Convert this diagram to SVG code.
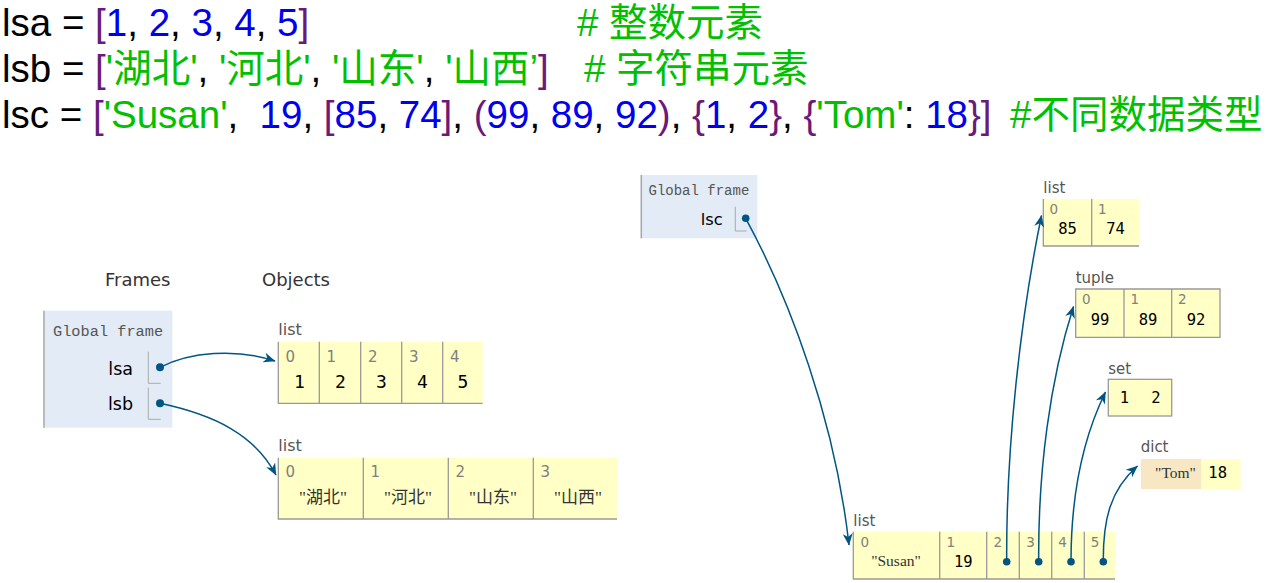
<svg xmlns="http://www.w3.org/2000/svg" width="1266" height="583" viewBox="0 0 1266 583">
<style>
.code{font-family:"Liberation Sans","Noto Sans CJK SC",sans-serif;font-size:38.5px;white-space:pre;fill:#000}
.g{fill:#00c000}.b{fill:#0000ee}.p{fill:#6a1a7a}
.hdr{font-family:"DejaVu Sans",sans-serif;font-size:18px;fill:#333}
.fr{fill:#e2ebf6}
.frb{stroke:#a8a8a8;stroke-width:1.5}
.frt{font-family:"Liberation Mono",monospace;fill:#555}
.var{font-family:"DejaVu Sans",sans-serif;fill:#000;text-anchor:end}
.ptr{fill:none;stroke:#aaa;stroke-width:1}
.dot{fill:#005583}
.cell{fill:#ffffc6}
.key{fill:#f7e7c3}
.bd{fill:none;stroke:#999;stroke-width:1.3}
.tl{font-family:"DejaVu Sans",sans-serif;fill:#555}
.ix{font-family:"DejaVu Sans",sans-serif;fill:#808080}
.v{font-family:"DejaVu Sans Mono",monospace;fill:#000;text-anchor:middle}
.s{font-family:"Liberation Serif","Noto Sans CJK SC",serif;fill:#333;text-anchor:middle}
.arr{fill:none;stroke:#005583;stroke-width:1.5;marker-end:url(#ah)}
</style>
<defs>
<marker id="ah" markerUnits="userSpaceOnUse" markerWidth="13" markerHeight="11" refX="11.5" refY="5" orient="auto" overflow="visible"><path d="M0,0 L12,5 L0,10 L3.5,5 Z" fill="#005583"/></marker>
</defs>
<rect width="1266" height="583" fill="#fff"/>

<g id="code">
<text class="code" x="2" y="36">lsa = <tspan class="p">[</tspan><tspan class="b">1</tspan>, <tspan class="b">2</tspan>, <tspan class="b">3</tspan>, <tspan class="b">4</tspan>, <tspan class="b">5</tspan><tspan class="p">]</tspan><tspan class="g" x="577"># 整数元素</tspan></text>
<text class="code" x="2" y="82">lsb = <tspan class="p">[</tspan><tspan class="g">'湖北'</tspan>, <tspan class="g">'河北'</tspan>, <tspan class="g">'山东'</tspan>, <tspan class="g">'山西’</tspan><tspan class="p">]</tspan><tspan class="g" x="584"># 字符串元素</tspan></text>
<text class="code" x="2" y="128">lsc = <tspan class="p">[</tspan><tspan class="g">'Susan'</tspan>,  <tspan class="b">19</tspan>, <tspan class="p">[</tspan><tspan class="b">85</tspan>, <tspan class="b">74</tspan><tspan class="p">]</tspan>, <tspan class="p">(</tspan><tspan class="b">99</tspan>, <tspan class="b">89</tspan>, <tspan class="b">92</tspan><tspan class="p">)</tspan>, <tspan class="p">{</tspan><tspan class="b">1</tspan>, <tspan class="b">2</tspan><tspan class="p">}</tspan>, <tspan class="p">{</tspan><tspan class="g">'Tom'</tspan>: <tspan class="b">18</tspan><tspan class="p">}]</tspan><tspan class="g" x="1010">#不同数据类型</tspan></text>
</g>

<g id="headers">
<text class="hdr" x="105" y="286">Frames</text>
<text class="hdr" x="262" y="286">Objects</text>
</g>

<g id="frame-left">
<rect class="fr" x="43.3" y="310.7" width="129" height="117"/>
<line class="frb" x1="44" y1="310.7" x2="44" y2="427.7"/>
<text class="frt" x="53" y="336" font-size="15.3">Global frame</text>
<text class="var" x="133" y="375" font-size="17.5">lsa</text>
<path class="ptr" d="M148.3,351.7 V383.3 H160.7"/>
<circle class="dot" cx="160" cy="367.3" r="4"/>
<text class="var" x="133" y="410" font-size="17.5">lsb</text>
<path class="ptr" d="M148.3,387.7 V419.3 H160.7"/>
<circle class="dot" cx="160" cy="403.3" r="4"/>
</g>

<g id="list-lsa">
<text class="tl" x="278.3" y="335" font-size="16">list</text>
<rect class="cell" x="278.3" y="341.7" width="204.4" height="61.6"/>
<path class="bd" d="M278.3,341.7 V403.3 H482.7 M319.3,341.7 V403.3 M360.7,341.7 V403.3 M401.7,341.7 V403.3 M442.7,341.7 V403.3"/>
<g class="ix" font-size="15">
<text x="285.5" y="361.7">0</text><text x="326.5" y="361.7">1</text><text x="368" y="361.7">2</text><text x="409" y="361.7">3</text><text x="450" y="361.7">4</text>
</g>
<g class="v" font-size="18">
<text x="299.3" y="387.7">1</text><text x="340.5" y="387.7">2</text><text x="381.5" y="387.7">3</text><text x="422.5" y="387.7">4</text><text x="463" y="387.7">5</text>
</g>
</g>

<g id="list-lsb">
<text class="tl" x="278.3" y="450.7" font-size="16">list</text>
<rect class="cell" x="278.3" y="457.7" width="338.7" height="61.3"/>
<path class="bd" d="M278.3,457.7 V519 H617 M363.3,457.7 V519 M448.3,457.7 V519 M533.3,457.7 V519"/>
<g class="ix" font-size="15">
<text x="285.5" y="477.3">0</text><text x="370.5" y="477.3">1</text><text x="455.5" y="477.3">2</text><text x="540.5" y="477.3">3</text>
</g>
<g class="s" font-size="17">
<text x="323" y="502.7">"湖北"</text><text x="408" y="502.7">"河北"</text><text x="493" y="502.7">"山东"</text><text x="578" y="502.7">"山西"</text>
</g>
</g>

<g id="frame-right">
<rect class="fr" x="640.7" y="175" width="116.6" height="63.3"/>
<line class="frb" x1="641.3" y1="175" x2="641.3" y2="238.3"/>
<text class="frt" x="648.5" y="195" font-size="14">Global frame</text>
<text class="var" x="722.7" y="225" font-size="16.3">lsc</text>
<path class="ptr" d="M735.3,206.7 V231 H746.7"/>
<circle class="dot" cx="745.7" cy="218.3" r="3.8"/>
</g>

<g id="list-lsc">
<text class="tl" x="853.3" y="526" font-size="15">list</text>
<rect class="cell" x="853.3" y="531.7" width="261.7" height="47.3"/>
<path class="bd" d="M853.3,531.7 V579 H1115 M939.7,531.7 V579 M986.7,531.7 V579 M1019.3,531.7 V579 M1051.7,531.7 V579 M1084.3,531.7 V579"/>
<g class="ix" font-size="13.5">
<text x="860.5" y="546.7">0</text><text x="946.5" y="546.7">1</text><text x="993.5" y="546.7">2</text><text x="1026.3" y="546.7">3</text><text x="1058.3" y="546.7">4</text><text x="1090.7" y="546.7">5</text>
</g>
<text class="s" x="896" y="566" font-size="15.5">"Susan"</text>
<text class="v" x="963.3" y="567" font-size="15.5">19</text>
<circle class="dot" cx="1006.7" cy="561.7" r="3.8"/>
<circle class="dot" cx="1038.7" cy="561.7" r="3.8"/>
<circle class="dot" cx="1071" cy="561.7" r="3.8"/>
<circle class="dot" cx="1103.3" cy="561.7" r="3.8"/>
</g>

<g id="list-85-74">
<text class="tl" x="1043.3" y="193.3" font-size="15">list</text>
<rect class="cell" x="1043.3" y="199" width="95.7" height="47"/>
<path class="bd" d="M1043.3,199 V246 H1139 M1091.7,199 V246"/>
<g class="ix" font-size="13.5"><text x="1049.5" y="214">0</text><text x="1098" y="214">1</text></g>
<g class="v" font-size="15.5"><text x="1067.5" y="234.3">85</text><text x="1115.5" y="234.3">74</text></g>
</g>

<g id="tuple">
<text class="tl" x="1075.7" y="283.3" font-size="15">tuple</text>
<rect class="cell" x="1075.7" y="289" width="144.3" height="48.3"/>
<path class="bd" d="M1075.7,289 H1220 V337.3 H1075.7 Z M1124,289 V337.3 M1171.7,289 V337.3"/>
<g class="ix" font-size="13.5"><text x="1082" y="304.3">0</text><text x="1130.5" y="304.3">1</text><text x="1178" y="304.3">2</text></g>
<g class="v" font-size="15.5"><text x="1100" y="325">99</text><text x="1148" y="325">89</text><text x="1196" y="325">92</text></g>
</g>

<g id="set">
<text class="tl" x="1108.3" y="374" font-size="15">set</text>
<rect class="cell" x="1108.3" y="379.3" width="63.4" height="36.7"/>
<rect class="bd" x="1108.3" y="379.3" width="63.4" height="36.7"/>
<g class="v" font-size="15.5"><text x="1124.3" y="403.3">1</text><text x="1156" y="403.3">2</text></g>
</g>

<g id="dict">
<text class="tl" x="1140.7" y="452.3" font-size="15">dict</text>
<rect class="key" x="1141" y="459" width="60" height="30"/>
<rect class="cell" x="1201" y="459" width="39.7" height="30"/>
<text class="s" x="1175.5" y="478.3" font-size="15.5">"Tom"</text>
<text class="v" x="1217.7" y="478.3" font-size="15.5">18</text>
</g>

<g id="connectors">
<path class="arr" d="M160,367.3 C190,352 235,348 275,361"/>
<path class="arr" d="M160,403.3 C215,415 255,435 276,475"/>
<path class="arr" d="M745.7,218.3 C790,300 835,420 849,545"/>
<path class="arr" d="M1006.7,561.7 C1006,450 1020,320 1041.5,215.5"/>
<path class="arr" d="M1038.7,561.7 C1038,470 1050,380 1073.5,306.5"/>
<path class="arr" d="M1071,561.7 C1071,500 1082,440 1105.5,392"/>
<path class="arr" d="M1103.3,561.7 C1103,520 1110,490 1137.5,466"/>
</g>
</svg>
